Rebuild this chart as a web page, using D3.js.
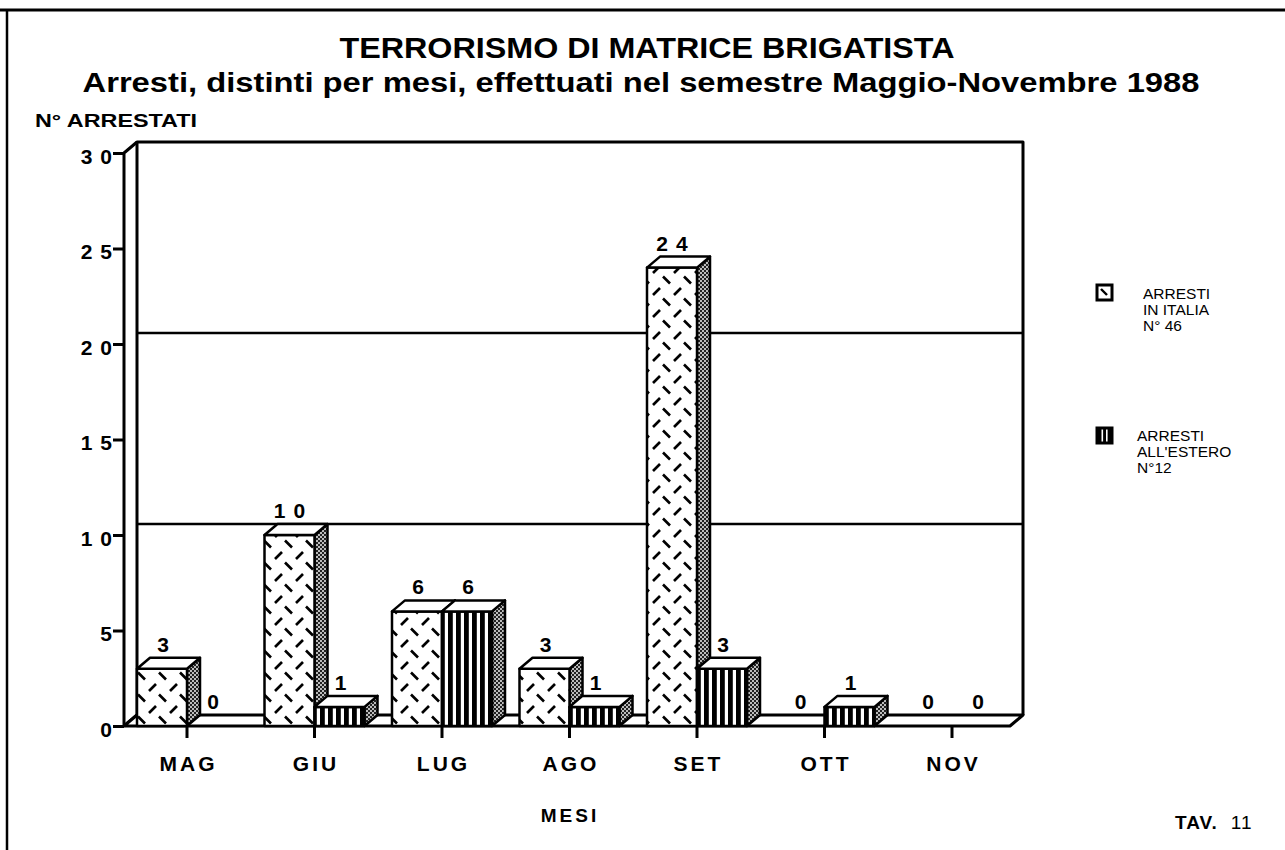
<!DOCTYPE html>
<html>
<head>
<meta charset="utf-8">
<script src="https://cdn.jsdelivr.net/npm/d3@7"></script>
<style>
  html, body { margin: 0; padding: 0; background: #fff; }
  svg { display: block; font-family: "Liberation Sans", Arial, Helvetica, sans-serif; }
</style>
</head>
<body>
<svg id="chart" width="1285" height="850"></svg>
<script>
// ---------- DATA ----------
const months = ["MAG", "GIU", "LUG", "AGO", "SET", "OTT", "NOV"];
const italia = [3, 10, 6, 3, 24, 0, 0];
const estero = [0, 1, 6, 1, 3, 1, 0];
const yTicks = [0, 5, 10, 15, 20, 25, 30];
const gridValues = [10, 20];
const seriesKeys = ["italia", "estero"];
const legendItalia = ["ARRESTI", "IN ITALIA", "N° 46"];
const legendEstero = ["ARRESTI", "ALL'ESTERO", "N°12"];
const titleText = "TERRORISMO DI MATRICE BRIGATISTA";
const subtitleText = "Arresti, distinti per mesi, effettuati nel semestre Maggio-Novembre 1988";
const yAxisTitle = "N° ARRESTATI";
const xAxisTitle = "MESI";

// ---------- LAYOUT ----------
const svg = d3.select("#chart");
const W = 1285, H = 850;
const dx = 13, dy = 11;          // 3D depth offset
const frontX = 124;              // front y-axis line
const y = d3.scaleLinear().domain([0, 30]).range([726, 153]);
const step = 127.5;
const x = d3.scaleBand().domain(months)
  .range([frontX - 0.75, frontX - 0.75 + step * months.length])
  .paddingInner(27.5 / step).paddingOuter(13.75 / step);
const xs = d3.scaleBand().domain(seriesKeys).range([0, x.bandwidth()]);
const backRight = 1023;
const y0 = y(0);
const yTop = y(30);

// ---------- PATTERNS ----------
const defs = svg.append("defs");
const pDash = defs.append("pattern").attr("id", "pDash")
  .attr("patternUnits", "userSpaceOnUse").attr("width", 21).attr("height", 22);
pDash.append("rect").attr("width", 21).attr("height", 22).attr("fill", "#fff");
pDash.append("line").attr("x1", 2).attr("y1", 9).attr("x2", 9).attr("y2", 2)
  .attr("stroke", "#000").attr("stroke-width", 2.6);
pDash.append("line").attr("x1", 12).attr("y1", 12.5).attr("x2", 19).attr("y2", 19.5)
  .attr("stroke", "#000").attr("stroke-width", 2.6);

const pDashIcon = defs.append("pattern").attr("id", "pDashIcon")
  .attr("patternUnits", "userSpaceOnUse").attr("width", 15).attr("height", 15)
  .attr("x", 1097).attr("y", 285);
pDashIcon.append("rect").attr("width", 15).attr("height", 15).attr("fill", "#fff");
pDashIcon.append("line").attr("x1", 4).attr("y1", 4).attr("x2", 10).attr("y2", 10)
  .attr("stroke", "#000").attr("stroke-width", 2.4);

const pStripe = defs.append("pattern").attr("id", "pStripe")
  .attr("patternUnits", "userSpaceOnUse").attr("width", 8).attr("height", 8);
pStripe.append("rect").attr("width", 8).attr("height", 8).attr("fill", "#fff");
pStripe.append("rect").attr("width", 4.8).attr("height", 8).attr("fill", "#000");

const pStripeIcon = defs.append("pattern").attr("id", "pStripeIcon")
  .attr("patternUnits", "userSpaceOnUse").attr("width", 15).attr("height", 15)
  .attr("x", 1097).attr("y", 428);
pStripeIcon.append("rect").attr("width", 15).attr("height", 15).attr("fill", "#000");
pStripeIcon.append("rect").attr("x", 4.5).attr("width", 1.6).attr("height", 15).attr("fill", "#fff");
pStripeIcon.append("rect").attr("x", 9).attr("width", 1.6).attr("height", 15).attr("fill", "#fff");

const pDots = defs.append("pattern").attr("id", "pDots")
  .attr("patternUnits", "userSpaceOnUse").attr("width", 4).attr("height", 4);
pDots.append("rect").attr("width", 4).attr("height", 4).attr("fill", "#222");
pDots.append("circle").attr("cx", 1).attr("cy", 1).attr("r", 0.95).attr("fill", "#fff");
pDots.append("circle").attr("cx", 3).attr("cy", 3).attr("r", 0.95).attr("fill", "#fff");

const fills = { italia: "url(#pDash)", estero: "url(#pStripe)" };
const iconFills = { italia: "url(#pDashIcon)", estero: "url(#pStripeIcon)" };

// ---------- PAGE BORDER ----------
svg.append("line").attr("x1", 0).attr("x2", W).attr("y1", 10).attr("y2", 10)
  .attr("stroke", "#000").attr("stroke-width", 3);
svg.append("line").attr("x1", 7).attr("x2", 7).attr("y1", 10).attr("y2", H)
  .attr("stroke", "#000").attr("stroke-width", 2.5);

// ---------- TITLES ----------
svg.append("text").attr("x", 647).attr("y", 58).attr("text-anchor", "middle")
  .attr("font-size", 29).attr("font-weight", "bold")
  .attr("textLength", 615).attr("lengthAdjust", "spacingAndGlyphs").text(titleText);
svg.append("text").attr("x", 641).attr("y", 92).attr("text-anchor", "middle")
  .attr("font-size", 27).attr("font-weight", "bold")
  .attr("textLength", 1117).attr("lengthAdjust", "spacingAndGlyphs").text(subtitleText);
svg.append("text").attr("x", 35).attr("y", 127)
  .attr("font-size", 19).attr("font-weight", "bold")
  .attr("textLength", 162).attr("lengthAdjust", "spacingAndGlyphs").text(yAxisTitle);

// ---------- 3D FRAME ----------
const frame = svg.append("g").attr("fill", "none").attr("stroke", "#000")
  .attr("stroke-width", 3).attr("stroke-linejoin", "round");
// back wall
frame.append("path").attr("d",
  `M${frontX + dx},${y0 - dy} V${yTop - dy} H${backRight} V${y0 - dy}`);
// grid lines on back wall
svg.append("g").selectAll("line").data(gridValues).join("line")
  .attr("x1", frontX + dx).attr("x2", backRight)
  .attr("y1", d => y(d) - dy).attr("y2", d => y(d) - dy)
  .attr("stroke", "#000").attr("stroke-width", 2.5);
// left side wall
frame.append("path").attr("d",
  `M${frontX},${y0} V${yTop} L${frontX + dx},${yTop - dy}`);
frame.append("path").attr("d",
  `M${frontX},${y0} L${frontX + dx},${y0 - dy}`);
// floor
svg.append("path").attr("d",
  `M${frontX},${y0} H${backRight - dx} L${backRight},${y0 - dy} H${frontX + dx} Z`)
  .attr("fill", "#fff").attr("stroke", "#000").attr("stroke-width", 3)
  .attr("stroke-linejoin", "round");

// ---------- BARS ----------
const barData = [];
months.forEach((m, i) => {
  barData.push({ m, key: "italia", v: italia[i] });
  barData.push({ m, key: "estero", v: estero[i] });
});
const bars = svg.append("g").attr("stroke", "#000").attr("stroke-width", 2.5)
  .attr("stroke-linejoin", "round");
barData.forEach(d => {
  if (d.v <= 0) return;
  const x0 = x(d.m) + xs(d.key), w = xs.bandwidth(), yt = y(d.v);
  const g = bars.append("g");
  // side face
  g.append("path").attr("d",
    `M${x0 + w},${yt} L${x0 + w + dx},${yt - dy} V${y0 - dy} L${x0 + w},${y0} Z`)
    .attr("fill", "url(#pDots)");
  // front face
  g.append("rect").attr("x", x0).attr("y", yt).attr("width", w).attr("height", y0 - yt)
    .attr("fill", fills[d.key]);
  // top face
  g.append("path").attr("d",
    `M${x0},${yt} L${x0 + dx},${yt - dy} H${x0 + w + dx} L${x0 + w},${yt} Z`)
    .attr("fill", "#fff");
});

// value labels
svg.append("g").selectAll("text").data(barData).join("text")
  .attr("x", d => x(d.m) + xs(d.key) + xs.bandwidth() / 2 + (String(d.v).length > 1 ? 4 : 1))
  .attr("y", d => y(d.v) - dy - 6)
  .attr("text-anchor", "middle").attr("font-size", 21).attr("font-weight", "bold")
  .attr("letter-spacing", d => String(d.v).length > 1 ? 8 : 0)
  .text(d => d.v);

// ---------- AXES ----------
const yAxis = svg.append("g").attr("transform", `translate(${frontX},0)`)
  .call(d3.axisLeft(y).tickValues(yTicks).tickSize(11).tickSizeOuter(0));
yAxis.select(".domain").remove();
yAxis.selectAll(".tick line").attr("stroke", "#000").attr("stroke-width", 3);
yAxis.selectAll(".tick text")
  .attr("x", -4).attr("dy", 0).attr("y", 10)
  .attr("font-size", 21).attr("font-weight", "bold")
  .attr("font-family", "Liberation Sans, Arial, sans-serif")
  .attr("letter-spacing", 8).attr("fill", "#000");

const xAxis = svg.append("g").attr("transform", `translate(0,${y0})`)
  .call(d3.axisBottom(x).tickSize(12).tickSizeOuter(0));
xAxis.select(".domain").remove();
xAxis.selectAll(".tick line").attr("stroke", "#000").attr("stroke-width", 3);
xAxis.selectAll(".tick text")
  .attr("y", 45).attr("dy", 0).attr("x", 1.5)
  .attr("font-size", 21).attr("font-weight", "bold")
  .attr("font-family", "Liberation Sans, Arial, sans-serif")
  .attr("letter-spacing", 3).attr("fill", "#000");

svg.append("text").attr("x", 570).attr("y", 822).attr("text-anchor", "middle")
  .attr("font-size", 19).attr("font-weight", "bold").attr("letter-spacing", 3)
  .text(xAxisTitle);

// ---------- LEGEND ----------
const legend = svg.append("g");
const legendItems = [
  { key: "italia", lines: legendItalia, iy: 285, tx: 1143, ty: 299 },
  { key: "estero", lines: legendEstero, iy: 428, tx: 1137, ty: 441 }
];
legendItems.forEach(it => {
  legend.append("rect").attr("x", 1097).attr("y", it.iy).attr("width", 15).attr("height", 15)
    .attr("fill", iconFills[it.key]).attr("stroke", "#000").attr("stroke-width", 3);
  legend.append("text").attr("font-size", 15.5)
    .selectAll("tspan").data(it.lines).join("tspan")
    .attr("x", it.tx).attr("y", (d, i) => it.ty + i * 16).text(d => d);
});

// ---------- TAV ----------
const tav = svg.append("text").attr("x", 1175).attr("y", 829).attr("font-size", 19);
tav.append("tspan").attr("font-weight", "bold").attr("letter-spacing", 1).text("TAV.");
tav.append("tspan").attr("dx", 13).attr("letter-spacing", 1).text("11");
</script>
</body>
</html>
